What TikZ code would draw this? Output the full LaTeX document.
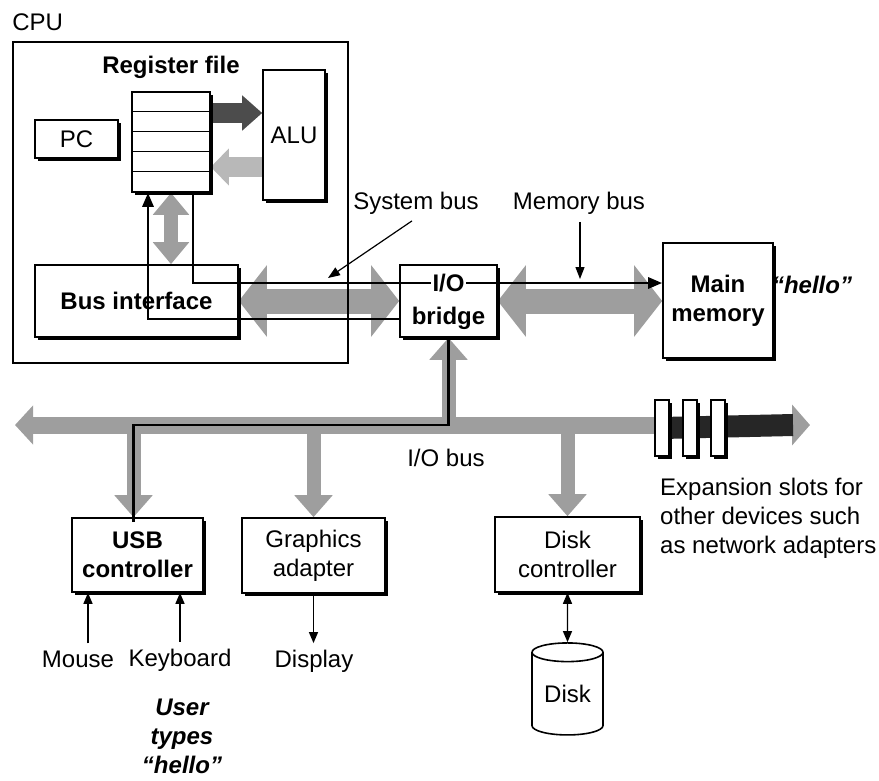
\documentclass[tikz,border=0pt]{standalone}
\usepackage{fontspec}
\setmainfont{Liberation Sans}
\usepackage{tikz}
\usetikzlibrary{arrows.meta, positioning, shapes.geometric, shadows, backgrounds}
\newcommand{\figsize}{\fontsize{24}{29}\selectfont}

\begin{document}
\begin{tikzpicture}[
    x=1pt, y=-1pt,
    font=\figsize,
    box/.style={draw, line width=1.6pt, fill=white, align=center, inner sep=0pt,
        drop shadow={shadow xshift=2.5pt, shadow yshift=-2.5pt, opacity=1, fill=black}},
    boldtext/.style={font=\figsize\bfseries, align=center, inner sep=0pt},
    hellotext/.style={font=\figsize\bfseries\itshape, align=center, inner sep=0pt},
    lbl/.style={align=center, inner sep=0pt},
    wire/.style={line width=2.8pt},
    tipwire/.style={wire, -{Triangle[length=14pt, width=11pt]}},
    link/.style={line width=1.3pt, -{Triangle[length=11pt, width=9pt]}},
    dlink/.style={line width=1.3pt, {Triangle[length=11pt, width=9pt]}-{Triangle[length=11pt, width=9pt]}},
    pointer/.style={line width=1.2pt, -{Triangle[length=12pt, width=9pt]}},
    sysbus/.style={line width=25pt, draw=black!38, {Triangle[length=28pt, width=70pt]}-{Triangle[length=28pt, width=70pt]}},
    iobus/.style={line width=17pt, draw=black!38, {Triangle[length=18pt, width=38pt]}-{Triangle[length=18pt, width=40pt]}},
    tap/.style={line width=14pt, draw=black!38, -{Triangle[length=22pt, width=37pt]}},
    dtap/.style={line width=14pt, draw=black!38, {Triangle[length=22pt, width=35pt]}-{Triangle[length=22pt, width=35pt]}},
    slot/.style={draw, line width=1.6pt, fill=white, minimum width=14pt, minimum height=56pt, inner sep=0pt,
        drop shadow={shadow xshift=3pt, shadow yshift=-3pt, opacity=1, fill=black}}
]
\useasboundingbox (0,0) rectangle (879,780);

% CPU chip
\node[draw, line width=1.6pt, minimum width=335pt, minimum height=321pt, inner sep=0pt] (cpu) at (180.5,202.5) {};
\node[lbl, anchor=south west] (cpulabel) at ([yshift=10pt]cpu.north west) {CPU};
\node[box, minimum width=78pt, minimum height=100pt] (regfile) at (171,142) {};
\foreach \r in {1,...,4}
    \draw[line width=1.2pt] ([yshift=-\r*20pt]regfile.north west) -- ([yshift=-\r*20pt]regfile.north east);
\node[boldtext, above=12pt of regfile] (reglabel) {Register file};
\node[box, minimum width=83pt, minimum height=38pt] (pc) at (76.5,139) {PC};
\node[box, minimum width=62pt, minimum height=130pt] (alu) at (294,135) {ALU};
\node[box, font=\figsize\bfseries, minimum width=203pt, minimum height=72pt] (busif) at (136.5,301) {Bus interface};

% bridge and memory
\node[box, minimum width=97pt, minimum height=72pt] (bridge) at (448.5,301) {};
\node[box, font=\figsize\bfseries, minimum width=110pt, minimum height=115pt] (mainmem) at (718,300.5) {Main\\memory};
\node[hellotext] (hello) at (812,285) {“hello”};
\node[lbl] (sysbuslabel) at (416,203.5) {System bus};
\node[lbl] (membuslabel) at (579,203.5) {Memory bus};
\coordinate (sysbuspt) at (328,278);
\coordinate (membuspt) at (580,279);

% I/O bus and devices
\coordinate (busL) at (15,425);
\coordinate (busR) at (810,425);
\foreach \n/\x in {1/662, 2/690, 3/718}
    \node[slot] (slot\n) at (\x,428) {};
\node[lbl] (iobuslabel) at (446,458) {I/O bus};
\node[lbl, align=left, anchor=west] (expansion) at (660,518) {Expansion slots for\\other devices such\\as network adapters};
\node[box, font=\figsize\bfseries, minimum width=131pt, minimum height=74pt] (usb) at (137.5,555) {USB\\controller};
\node[box, minimum width=143pt, minimum height=75pt] (graphics) at (313.5,555.5) {Graphics\\adapter};
\node[box, minimum width=145pt, minimum height=75pt] (diskctl) at (567.5,554.5) {Disk\\controller};
\node[draw, cylinder, shape border rotate=90, aspect=0.4, line width=1.6pt, fill=white,
      minimum width=71pt, minimum height=92pt, inner sep=0pt] (disk) at (567.5,694) {Disk};
\node[lbl] (mouse) at (78,659) {Mouse};
\node[lbl] (keyboard) at (180,660) {Keyboard};
\node[lbl] (display) at (314,661.5) {Display};
\node[hellotext] (usertypes) at (182,736) {User\\types\\“hello”};

% gray buses
\begin{scope}[on background layer]
    \draw[iobus] (busL) -- (busR);
    \draw[line width=22pt, draw=black!85] (slot1.center) -- ([xshift=-17pt]busR);
    \draw[sysbus] (busif.east) -- (bridge.west);
    \draw[sysbus] (bridge.east) -- (bridge.east -| mainmem.west);
    \draw[tap] (bridge.south |- busL) -- (bridge.south);
    \draw[tap] ([xshift=-4pt]usb.north |- busL) -- ([xshift=-4pt]usb.north);
    \draw[tap] (graphics.north |- busL) -- (graphics.north);
    \draw[tap] (diskctl.north |- busL) -- (diskctl.north);
    \draw[dtap] (regfile.south) -- (regfile.south |- busif.north);
    \draw[line width=20pt, draw=black!70, -{Triangle[length=20pt, width=34pt]}]
        ([yshift=29pt]regfile.east) -- ([yshift=29pt]regfile.east -| alu.west);
    \draw[line width=20pt, draw=black!28, -{Triangle[length=18pt, width=36pt]}]
        ([yshift=-25pt]regfile.east -| alu.west) -- ([yshift=-25pt]regfile.east);
\end{scope}

% path of the characters
\draw[wire] ([xshift=-4pt, yshift=-5pt]usb.north) -- ([xshift=-4pt]usb.north |- busL) -| (bridge.south);
\draw[tipwire] ([yshift=-18pt]bridge.west) -| ([xshift=-23pt]regfile.south);
\draw[tipwire] ([xshift=22pt]regfile.south) |- ([yshift=17.5pt]mainmem.west);
\node[boldtext, fill=white, inner sep=1.5pt] (bridgetop) at ([yshift=18pt]bridge.center) {I/O};
\node[boldtext, fill=white, inner sep=1.5pt] (bridgebot) at ([yshift=-17pt]bridge.center) {bridge};

\draw[pointer] ([xshift=-4pt, yshift=-6pt]sysbuslabel.south) -- (sysbuspt);
\draw[pointer] ([xshift=1pt, yshift=-7pt]membuslabel.south) -- (membuspt);

\draw[link] ([xshift=10pt, yshift=7pt]mouse.north) -- ([xshift=10pt]mouse.north |- usb.south);
\draw[link] ([yshift=7pt]keyboard.north) -- (keyboard.north |- usb.south);
\draw[link] (graphics.south) -- ([yshift=7pt]display.north -| graphics.south);
\draw[dlink] (diskctl.south) -- (disk.north);
\end{tikzpicture}
\end{document}
